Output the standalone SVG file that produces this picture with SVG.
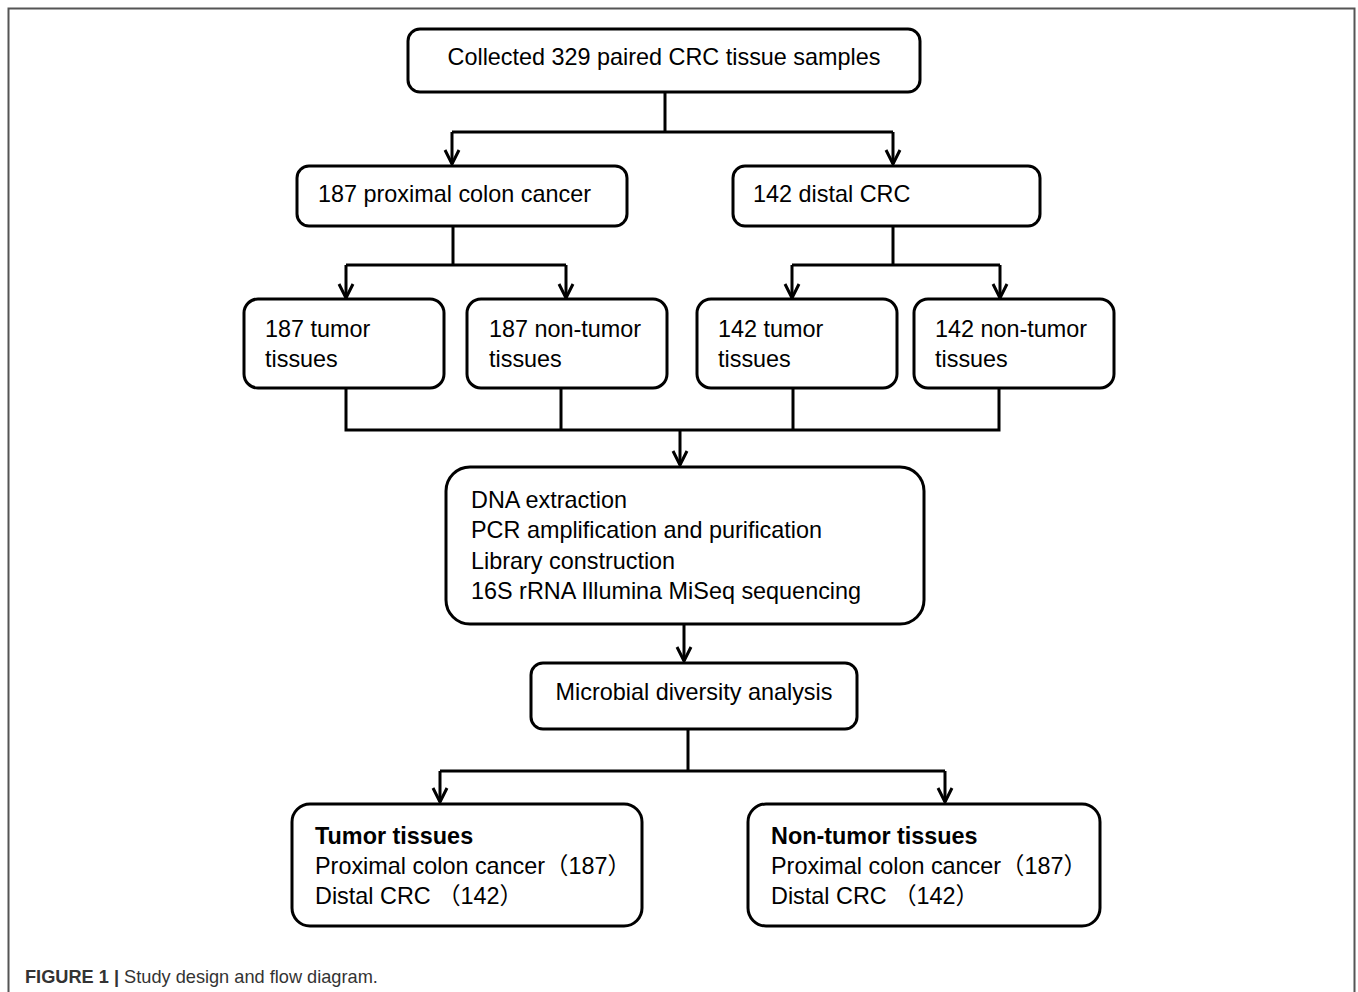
<svg xmlns="http://www.w3.org/2000/svg" width="1358" height="992" viewBox="0 0 1358 992">
<style>
.box{fill:#fff;stroke:#000;stroke-width:3}
.t{font-family:"Liberation Sans",Arial,"Noto Sans CJK SC",sans-serif;font-size:23.4px;fill:#000}
.b{font-weight:bold}
.c{fill:none;stroke:#000;stroke-width:3}
.cap{font-family:"Liberation Sans",Arial,sans-serif;font-size:18.2px;fill:#333}
</style>
<defs>
<marker id="arr" markerUnits="userSpaceOnUse" markerWidth="20" markerHeight="20" viewBox="0 0 20 20" refX="17" refY="10" orient="auto">
<path d="M3,3 L17,10 L3,17" fill="none" stroke="#000" stroke-width="3"/>
</marker>
</defs>
<rect width="1358" height="992" fill="#fff"/>
<path d="M8.5,992 V8.5 H1354.5 V992" fill="none" stroke="#555" stroke-width="2"/>

<g id="connectors">
<path class="c" d="M665,92 V132"/>
<path class="c" d="M452,132 H893"/>
<path class="c" d="M452,132 V164" marker-end="url(#arr)"/>
<path class="c" d="M893,132 V164" marker-end="url(#arr)"/>
<path class="c" d="M453,226 V265"/>
<path class="c" d="M346,265 H566"/>
<path class="c" d="M346,265 V298" marker-end="url(#arr)"/>
<path class="c" d="M566,265 V298" marker-end="url(#arr)"/>
<path class="c" d="M893,226 V265"/>
<path class="c" d="M792,265 H1000"/>
<path class="c" d="M792,265 V298" marker-end="url(#arr)"/>
<path class="c" d="M1000,265 V298" marker-end="url(#arr)"/>
<path class="c" d="M346,388 V430 H999 V388"/>
<path class="c" d="M561,388 V430"/>
<path class="c" d="M793,388 V430"/>
<path class="c" d="M680,430 V465" marker-end="url(#arr)"/>
<path class="c" d="M684,624 V661" marker-end="url(#arr)"/>
<path class="c" d="M688,730 V771"/>
<path class="c" d="M440,771 H945"/>
<path class="c" d="M440,771 V802" marker-end="url(#arr)"/>
<path class="c" d="M945,771 V802" marker-end="url(#arr)"/>
</g>

<g id="n_collected">
<rect class="box" x="408" y="29" width="512" height="63" rx="12"/>
<text class="t" x="664" y="65" text-anchor="middle">Collected 329 paired CRC tissue samples</text>
</g>
<g id="n_proximal">
<rect class="box" x="297" y="166" width="330" height="60" rx="12"/>
<text class="t" x="318" y="202">187 proximal colon cancer</text>
</g>
<g id="n_distal">
<rect class="box" x="733" y="166" width="307" height="60" rx="12"/>
<text class="t" x="753" y="202">142 distal CRC</text>
</g>
<g id="n_187t">
<rect class="box" x="244" y="299" width="200" height="89" rx="14"/>
<text class="t" x="265" y="337">187 tumor</text>
<text class="t" x="265" y="367">tissues</text>
</g>
<g id="n_187n">
<rect class="box" x="467" y="299" width="200" height="89" rx="14"/>
<text class="t" x="489" y="337">187 non-tumor</text>
<text class="t" x="489" y="367">tissues</text>
</g>
<g id="n_142t">
<rect class="box" x="697" y="299" width="200" height="89" rx="14"/>
<text class="t" x="718" y="337">142 tumor</text>
<text class="t" x="718" y="367">tissues</text>
</g>
<g id="n_142n">
<rect class="box" x="914" y="299" width="200" height="89" rx="14"/>
<text class="t" x="935" y="337">142 non-tumor</text>
<text class="t" x="935" y="367">tissues</text>
</g>
<g id="n_seq">
<rect class="box" x="446" y="467" width="478" height="157" rx="24"/>
<text class="t" x="471" y="508">DNA extraction</text>
<text class="t" x="471" y="538">PCR amplification and purification</text>
<text class="t" x="471" y="569">Library construction</text>
<text class="t" x="471" y="599">16S rRNA Illumina MiSeq sequencing</text>
</g>
<g id="n_micro">
<rect class="box" x="531" y="663" width="326" height="66" rx="12"/>
<text class="t" x="694" y="700" text-anchor="middle">Microbial diversity analysis</text>
</g>
<g id="n_tumor">
<rect class="box" x="292" y="804" width="350" height="122" rx="18"/>
<text class="t b" x="315" y="844">Tumor tissues</text>
<text class="t" x="315" y="874">Proximal colon cancer（187）</text>
<text class="t" x="315" y="904">Distal CRC （142）</text>
</g>
<g id="n_nontumor">
<rect class="box" x="748" y="804" width="352" height="122" rx="18"/>
<text class="t b" x="771" y="844">Non-tumor tissues</text>
<text class="t" x="771" y="874">Proximal colon cancer（187）</text>
<text class="t" x="771" y="904">Distal CRC （142）</text>
</g>
<text class="cap" x="25" y="983"><tspan font-weight="bold">FIGURE 1 |</tspan> Study design and flow diagram.</text>
</svg>
